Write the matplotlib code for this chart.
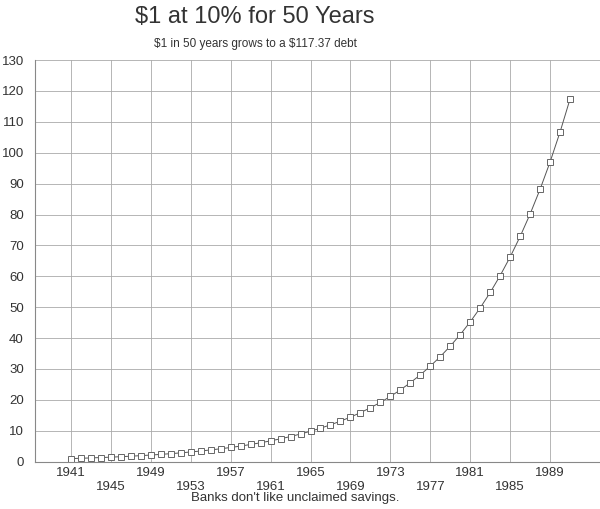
import matplotlib
matplotlib.use("Agg")
import matplotlib.pyplot as plt

plt.rcParams['font.family'] = ['Liberation Sans', 'DejaVu Sans']

# $1 compounding at 10% a year, one point per year
years = list(range(1941, 1992))
debt = [1.00, 1.10, 1.21, 1.33, 1.46, 1.61, 1.77, 1.95, 2.14, 2.36,
        2.59, 2.85, 3.14, 3.45, 3.80, 4.18, 4.59, 5.05, 5.56, 6.12,
        6.73, 7.40, 8.14, 8.95, 9.85, 10.83, 11.92, 13.11, 14.42, 15.86,
        17.45, 19.19, 21.11, 23.23, 25.55, 28.10, 30.91, 34.00, 37.40, 41.14,
        45.26, 49.79, 54.76, 60.24, 66.26, 72.89, 80.18, 88.20, 97.02, 106.72,
        117.39]
xticks = list(range(1941, 1990, 4))
yticks = list(range(0, 131, 10))

fig = plt.figure(figsize=(6, 5.09), dpi=100)
ax = fig.add_axes([0.0583, 0.093, 0.9417, 0.789])

ax.plot(years, debt, color='#555555', lw=0.7, marker='s', markersize=5,
        markerfacecolor='white', markeredgecolor='#666666', markeredgewidth=0.7)

ax.set_xlim(1937.4, 1994)
ax.set_ylim(0, 130)
ax.set_xticks(xticks)
labels = []
for i, y in enumerate(xticks):
    labels.append(str(y) if i % 2 == 0 else "\n" + str(y))
ax.set_xticklabels(labels)
ax.set_yticks(yticks)
ax.tick_params(length=0, labelsize=9.5, labelcolor='#333333')
ax.tick_params(axis='x', pad=4)
ax.tick_params(axis='y', pad=8)
ax.grid(True, color='#aaaaaa', lw=0.6)
ax.set_axisbelow(True)
for s in ['top', 'right']:
    ax.spines[s].set_visible(False)
for s in ['left', 'bottom']:
    ax.spines[s].set_color('#888888')
    ax.spines[s].set_linewidth(0.8)

fig.text(0.424, 0.966, "\\$1 at 10% for 50 Years", ha='center', va='center',
         fontsize=17, color='#333333')
fig.text(0.425, 0.913, "\\$1 in 50 years grows to a \\$117.37 debt", ha='center',
         va='center', fontsize=8.5, color='#333333')
fig.text(0.492, 0.022, "Banks don't like unclaimed savings.", ha='center',
         va='center', fontsize=9.5, color='#333333')

fig.savefig("out.png", dpi=100, facecolor='white')
